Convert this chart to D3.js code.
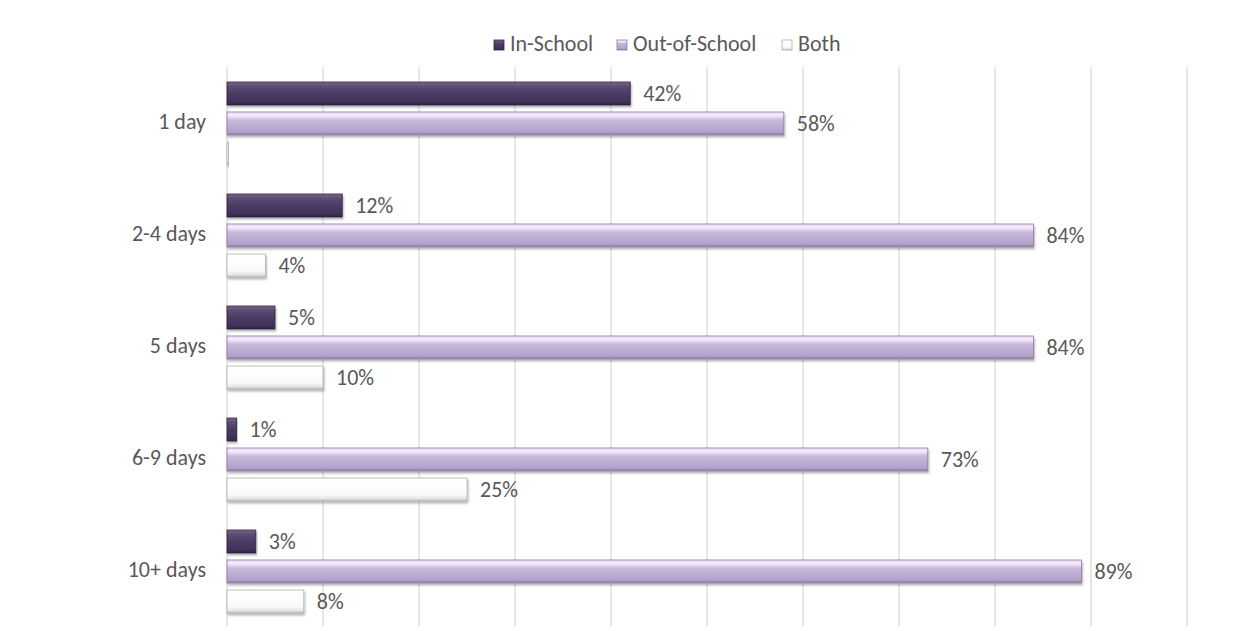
<!DOCTYPE html>
<html><head><meta charset="utf-8">
<script src="https://cdn.jsdelivr.net/npm/d3@7"></script>
<style>body{margin:0;background:#fff;} text{font-family:Carlito,Roboto,"Liberation Sans",sans-serif;}</style>
</head><body>
<svg id="c" width="1243" height="631"></svg>
<script>
const categories = ["1 day","2-4 days","5 days","6-9 days","10+ days"];
const seriesNames = ["In-School","Out-of-School","Both"];
const inSchool = [42,12,5,1,3];
const outOfSchool = [58,84,84,73,89];
const both = [0,4,10,25,8];
const xTicks = [0,10,20,30,40,50,60,70,80,90,100];

const svg = d3.select("#c");
const x = d3.scaleLinear().domain([0,100]).range([227, 1187]);
const y = d3.scaleBand().domain(categories).range([67.5, 627.5]);
const sub = d3.scaleBand().domain(seriesNames).range([-41.5,41.5]).paddingInner(7/30).paddingOuter(0);

const defs = svg.append("defs");
function grad(id, stops){
  const g = defs.append("linearGradient").attr("id",id).attr("x1",0).attr("y1",0).attr("x2",0).attr("y2",1);
  stops.forEach(s=>g.append("stop").attr("offset",s[0]).attr("stop-color",s[1]));
}
grad("g0",[[0,"#7a6a8e"],[0.18,"#5e4d75"],[0.5,"#4b3a61"],[0.85,"#433358"],[1,"#2e2240"]]);
grad("g1",[[0,"#e9dcf7"],[0.15,"#f4ecfc"],[0.35,"#c9b8de"],[0.85,"#b4a2cb"],[1,"#8f7ea6"]]);
grad("g2",[[0,"#ffffff"],[0.7,"#fbfbfb"],[0.9,"#e6e6e6"],[1,"#bdbdbd"]]);
const f = defs.append("filter").attr("id","sh").attr("x","-5%").attr("y","-20%").attr("width","110%").attr("height","160%");
f.append("feDropShadow").attr("dx",1).attr("dy",2).attr("stdDeviation",1.2).attr("flood-color","#000").attr("flood-opacity",0.3);

// gridlines
svg.append("g").selectAll("line").data(xTicks).join("line")
  .attr("x1",d=>x(d)).attr("x2",d=>x(d)).attr("y1",67).attr("y2",626)
  .attr("stroke","#d9d9d9").attr("stroke-width",1.3);

// y axis labels
svg.append("g").selectAll("text").data(categories).join("text")
  .attr("x",206).attr("y",d=>y(d)+y.bandwidth()/2+5).attr("text-anchor","end")
  .attr("font-size",22).attr("fill","#595959").text(d=>d);

const data = [inSchool,outOfSchool,both];
const edge = ["#2f2342","#8c7aa3","#b0b0b0"];
data.forEach((vals,si)=>{
  const g = svg.append("g");
  const name = seriesNames[si];
  const rows = categories.map((c,i)=>({c,v:vals[i]}));
  g.selectAll("rect").data(rows).join("rect")
    .attr("x",x(0)).attr("y",d=>y(d.c)+y.bandwidth()/2+sub(name))
    .attr("width",d=>Math.max(x(d.v)-x(0),1.5)).attr("height",sub.bandwidth())
    .attr("fill",`url(#g${si})`).attr("stroke",edge[si]).attr("stroke-width",0.8)
    .attr("filter","url(#sh)");
  g.selectAll("text").data(rows.filter(d=>d.v>0)).join("text")
    .attr("x",d=>x(d.v)+13).attr("y",d=>y(d.c)+y.bandwidth()/2+sub(name)+sub.bandwidth()/2+7)
    .attr("font-size",22).attr("fill","#595959")
    .text(d=>d.v+"%");
});

// legend
const legX = [494,617,782];
const lg = svg.append("g");
seriesNames.forEach((n,i)=>{
  lg.append("rect").attr("x",legX[i]).attr("y",40).attr("width",10).attr("height",10)
    .attr("fill",`url(#g${i})`).attr("stroke",edge[i]).attr("stroke-width",0.8);
  lg.append("text").attr("x",legX[i]+16).attr("y",51)
    .attr("font-size",22).attr("fill","#595959").text(n);
});
</script>
</body></html>
